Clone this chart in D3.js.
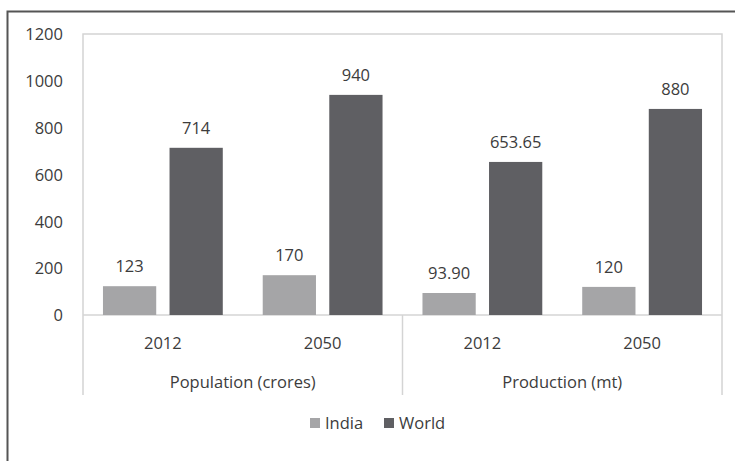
<!DOCTYPE html>
<html>
<head>
<meta charset="utf-8">
<script src="https://cdn.jsdelivr.net/npm/d3@7"></script>
<style>
  body { margin: 0; background: #fff; }
  svg text { font-family: "Open Sans", "Liberation Sans", sans-serif; fill: #3c3c3c; }
</style>
</head>
<body>
<div id="chart"></div>
<script>
// data
const groups = ["Population (crores)", "Production (mt)"];
const years = ["2012", "2050"];
const seriesNames = ["India", "World"];
const india = [123, 170, 93.90, 120];
const world = [714, 940, 653.65, 880];
const indiaLabels = ["123", "170", "93.90", "120"];
const worldLabels = ["714", "940", "653.65", "880"];
const yTicks = [0, 200, 400, 600, 800, 1000, 1200];
const colors = ["#a5a5a7", "#5f5f63"];

const width = 735, height = 461;
const plotLeft = 83, plotRight = 722, plotTop = 34, zeroY = 315, plotBottom = 395;
const fontSize = "16.5px";

const svg = d3.select("#chart").append("svg")
  .attr("width", width)
  .attr("height", height);

// outer frame (only top and left edges show in the picture)
svg.append("path")
  .attr("d", `M7.5,${height} V11.5 H${width}`)
  .attr("fill", "none")
  .attr("stroke", "#555")
  .attr("stroke-width", 2);

const y = d3.scaleLinear().domain([0, 1200]).range([zeroY, plotTop]);

const xGroup = d3.scaleBand().domain(groups).range([plotLeft, plotRight]);
const xYear = d3.scaleBand().domain(years).range([0, xGroup.bandwidth()]);
const xSeries = d3.scaleBand().domain(seriesNames)
  .range([0, xYear.bandwidth()])
  .paddingInner(0.2)
  .paddingOuter(0.3);

// flatten into rows
const rows = [];
groups.forEach((g, gi) => {
  years.forEach((yr, yi) => {
    const i = gi * years.length + yi;
    rows.push({ group: g, year: yr, series: "India", value: india[i], label: indiaLabels[i] });
    rows.push({ group: g, year: yr, series: "World", value: world[i], label: worldLabels[i] });
  });
});
const xPos = d => xGroup(d.group) + xYear(d.year) + xSeries(d.series);

// plot area border
const grid = "#d4d4d4";
svg.append("path")
  .attr("d", `M${plotLeft},${plotBottom} V${plotTop} H${plotRight} V${plotBottom}`)
  .attr("fill", "none")
  .attr("stroke", grid)
  .attr("stroke-width", 1.5);

// category axis: baseline and group dividers
svg.append("line")
  .attr("x1", plotLeft).attr("x2", plotRight)
  .attr("y1", y(0)).attr("y2", y(0))
  .attr("stroke", grid).attr("stroke-width", 1.5);
svg.selectAll("line.divider")
  .data(groups.slice(1))
  .enter().append("line")
  .attr("class", "divider")
  .attr("x1", d => xGroup(d)).attr("x2", d => xGroup(d))
  .attr("y1", y(0)).attr("y2", plotBottom)
  .attr("stroke", grid).attr("stroke-width", 1.5);

// y axis labels
const yAxis = d3.axisLeft(y).tickValues(yTicks).tickFormat(d3.format("d"))
  .tickSize(0).tickPadding(0);
const yg = svg.append("g")
  .attr("transform", `translate(63,0)`)
  .call(yAxis);
yg.select(".domain").remove();
yg.selectAll("text")
  .style("font-size", fontSize)
  .style("font-family", "'Open Sans', sans-serif")
  .attr("fill", "#3c3c3c")
  .attr("dy", "0.35em");

// bars
svg.selectAll("rect.bar")
  .data(rows)
  .enter().append("rect")
  .attr("class", "bar")
  .attr("x", xPos)
  .attr("width", xSeries.bandwidth())
  .attr("y", d => y(d.value))
  .attr("height", d => y(0) - y(d.value))
  .attr("fill", d => colors[seriesNames.indexOf(d.series)]);

// value labels
svg.selectAll("text.val")
  .data(rows)
  .enter().append("text")
  .attr("class", "val")
  .attr("x", d => xPos(d) + xSeries.bandwidth() / 2)
  .attr("y", d => y(d.value) - 14)
  .attr("text-anchor", "middle")
  .style("font-size", fontSize)
  .text(d => d.label);

// year labels
groups.forEach(g => {
  svg.selectAll(null)
    .data(years)
    .enter().append("text")
    .attr("x", d => xGroup(g) + xYear(d) + xYear.bandwidth() / 2)
    .attr("y", 343)
    .attr("dy", "0.35em")
    .attr("text-anchor", "middle")
    .style("font-size", fontSize)
    .text(d => d);
});

// group labels
svg.selectAll("text.grp")
  .data(groups)
  .enter().append("text")
  .attr("class", "grp")
  .attr("x", d => xGroup(d) + xGroup.bandwidth() / 2)
  .attr("y", 382)
  .attr("dy", "0.35em")
  .attr("text-anchor", "middle")
  .style("font-size", fontSize)
  .text(d => d);

// legend
const legendX = [310, 384];
const lg = svg.selectAll("g.legend")
  .data(seriesNames)
  .enter().append("g")
  .attr("class", "legend")
  .attr("transform", (d, i) => `translate(${legendX[i]},423)`);
lg.append("rect")
  .attr("x", 0).attr("y", -5)
  .attr("width", 10).attr("height", 10)
  .attr("fill", (d, i) => colors[i]);
lg.append("text")
  .attr("x", 15)
  .attr("dy", "0.35em")
  .style("font-size", fontSize)
  .text(d => d);
</script>
</body>
</html>
